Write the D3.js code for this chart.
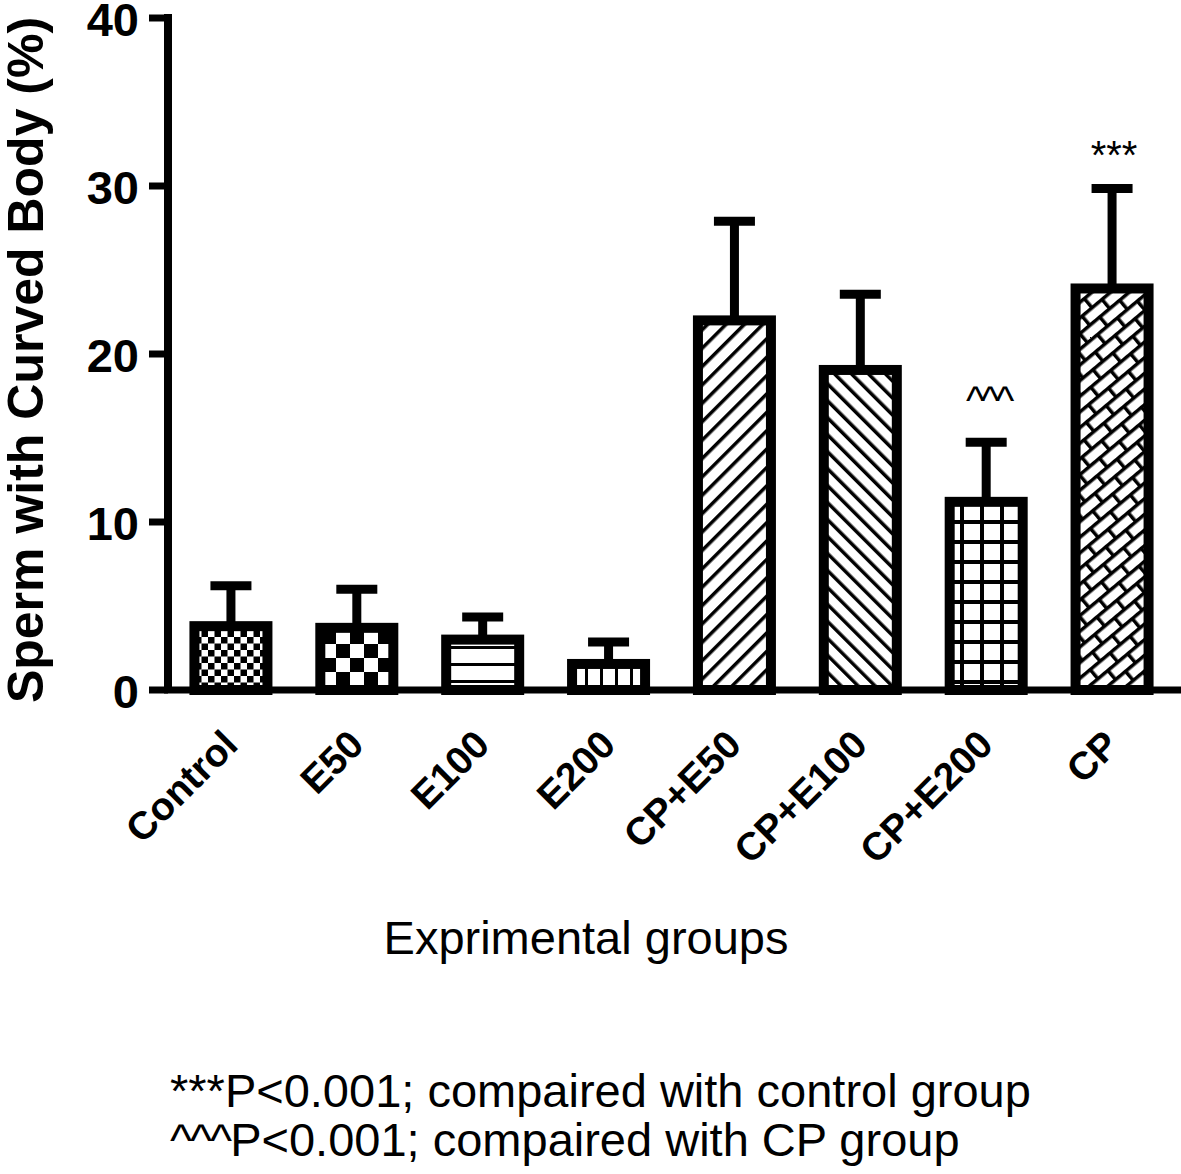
<!DOCTYPE html>
<html>
<head>
<meta charset="utf-8">
<script src="https://cdn.jsdelivr.net/npm/d3@7"></script>
<style>
  html, body { margin: 0; padding: 0; background: #fff; }
  svg { display: block; }
  text { font-family: "Liberation Sans", Arial, sans-serif; fill: #000; }
</style>
</head>
<body>
<svg id="chart" width="1181" height="1174"></svg>
<script>
const groups = ['Control', 'E50', 'E100', 'E200', 'CP+E50', 'CP+E100', 'CP+E200', 'CP']
const means = [3.8, 3.7, 3.0, 1.55, 22.0, 19.05, 11.2, 23.9]
const errors = [2.4, 2.3, 1.35, 1.3, 5.9, 4.5, 3.55, 5.95]
const fills = ['checkSmall', 'checkBig', 'hLines', 'vLines', 'diagUp', 'diagDown', 'grid', 'bricks']
const yTicks = [0, 10, 20, 30, 40]
const sigGroups = ['CP+E200', 'CP']
const sigMarks = ['^^^', '***']
const footnoteMarks = ['***', '^^^']
const footnoteTexts = ['P<0.001; compaired with control group', 'P<0.001; compaired with CP group']

const svg = d3.select('#chart')
const x = d3.scaleBand().domain(groups).range([168, 1175]).paddingInner(0.42).paddingOuter(0.21)
const y = d3.scaleLinear().domain([0, 40]).range([690, 18])

// fill patterns
const defs = svg.append('defs')
function pattern(id, w, h, transform) {
  const p = defs.append('pattern').attr('id', id)
    .attr('patternUnits', 'userSpaceOnUse')
    .attr('width', w).attr('height', h)
  if (transform) p.attr('patternTransform', transform)
  p.append('rect').attr('width', w).attr('height', h).attr('fill', '#fff')
  return p
}
let p = pattern('checkSmall', 13, 13)
p.append('rect').attr('width', 6.5).attr('height', 6.5)
p.append('rect').attr('x', 6.5).attr('y', 6.5).attr('width', 6.5).attr('height', 6.5)
p = pattern('checkBig', 28, 28)
p.append('rect').attr('width', 14).attr('height', 14)
p.append('rect').attr('x', 14).attr('y', 14).attr('width', 14).attr('height', 14)
p = pattern('hLines', 10, 17)
p.append('rect').attr('y', 0).attr('width', 10).attr('height', 3)
p = pattern('vLines', 15, 10)
p.append('rect').attr('x', 0).attr('width', 3).attr('height', 10)
p = pattern('diagUp', 13, 10, 'rotate(45)')
p.append('rect').attr('width', 3.5).attr('height', 10)
p = pattern('diagDown', 12, 10, 'rotate(-45)')
p.append('rect').attr('width', 3.5).attr('height', 10)
p = pattern('grid', 20, 20)
p.append('rect').attr('width', 20).attr('height', 4)
p.append('rect').attr('width', 4).attr('height', 20)
p = pattern('bricks', 26, 24, 'rotate(-40)')
p.append('rect').attr('width', 26).attr('height', 3.5)
p.append('rect').attr('y', 12).attr('width', 26).attr('height', 3.5)
p.append('rect').attr('x', 0).attr('y', 0).attr('width', 3.5).attr('height', 12)
p.append('rect').attr('x', 13).attr('y', 12).attr('width', 3.5).attr('height', 12)

const data = groups.map((g, i) => ({ g, mean: means[i], err: errors[i], fill: fills[i] }))

// error bars (upper only)
const capW = 41
const err = svg.append('g').selectAll('g').data(data).join('g')
err.append('line')
  .attr('x1', d => x(d.g) + x.bandwidth() / 2).attr('x2', d => x(d.g) + x.bandwidth() / 2)
  .attr('y1', d => y(d.mean)).attr('y2', d => y(d.mean + d.err))
  .attr('stroke', '#000').attr('stroke-width', 9)
err.append('line')
  .attr('x1', d => x(d.g) + x.bandwidth() / 2 - capW / 2).attr('x2', d => x(d.g) + x.bandwidth() / 2 + capW / 2)
  .attr('y1', d => y(d.mean + d.err)).attr('y2', d => y(d.mean + d.err))
  .attr('stroke', '#000').attr('stroke-width', 9)

// bars
svg.append('g').selectAll('rect').data(data).join('rect')
  .attr('x', d => x(d.g)).attr('width', x.bandwidth())
  .attr('y', d => y(d.mean)).attr('height', d => y(0) - y(d.mean))
  .attr('fill', d => `url(#${d.fill})`)
  .attr('stroke', '#000').attr('stroke-width', 10)

// axes
svg.append('line').attr('x1', 168).attr('x2', 168).attr('y1', y(40) - 4).attr('y2', y(0))
  .attr('stroke', '#000').attr('stroke-width', 8)
svg.append('line').attr('x1', 164).attr('x2', 1181).attr('y1', y(0)).attr('y2', y(0))
  .attr('stroke', '#000').attr('stroke-width', 7)
const yt = svg.append('g').selectAll('g').data(yTicks).join('g')
  .attr('transform', d => `translate(0,${y(d)})`)
yt.append('line').attr('x1', 149).attr('x2', 168).attr('stroke', '#000').attr('stroke-width', 7)
yt.append('text').text(d => d)
  .attr('x', 139).attr('dy', '0.38em')
  .attr('text-anchor', 'end')
  .style('font-size', '47px').style('font-weight', 'bold')

// x tick labels
svg.append('g').selectAll('text').data(groups).join('text')
  .text(d => d)
  .attr('text-anchor', 'end')
  .attr('transform', d => `translate(${x(d) + x.bandwidth() / 2 + 9},${747}) rotate(-45)`)
  .style('font-size', '39px').style('font-weight', 'bold')

// axis titles
svg.append('text').text('Sperm with Curved Body (%)')
  .attr('text-anchor', 'middle')
  .attr('transform', `translate(43,${360}) rotate(-90)`)
  .style('font-size', '50px').style('font-weight', 'bold')
svg.append('text').text('Exprimental groups')
  .attr('x', 586).attr('y', 954)
  .attr('text-anchor', 'middle')
  .style('font-size', '47px')

// significance marks
svg.append('g').selectAll('text').data(sigGroups).join('text')
  .text((d, i) => sigMarks[i])
  .attr('x', d => x(d) + x.bandwidth() / 2 + 2)
  .attr('y', (d, i) => i === 0 ? 414 : 169)
  .attr('text-anchor', 'middle')
  .style('font-size', '40px')
  .style('letter-spacing', (d, i) => i === 0 ? '-4px' : '0px')

// footnotes
const notes = svg.append('g').selectAll('text').data(footnoteTexts).join('text')
  .attr('x', 170).attr('y', (d, i) => 1107 + i * 49)
  .style('font-size', '47px')
notes.append('tspan').text((d, i) => footnoteMarks[i])
  .style('letter-spacing', (d, i) => i === 1 ? '-2px' : '0px')
notes.append('tspan').text(d => d)
</script>
</body>
</html>
